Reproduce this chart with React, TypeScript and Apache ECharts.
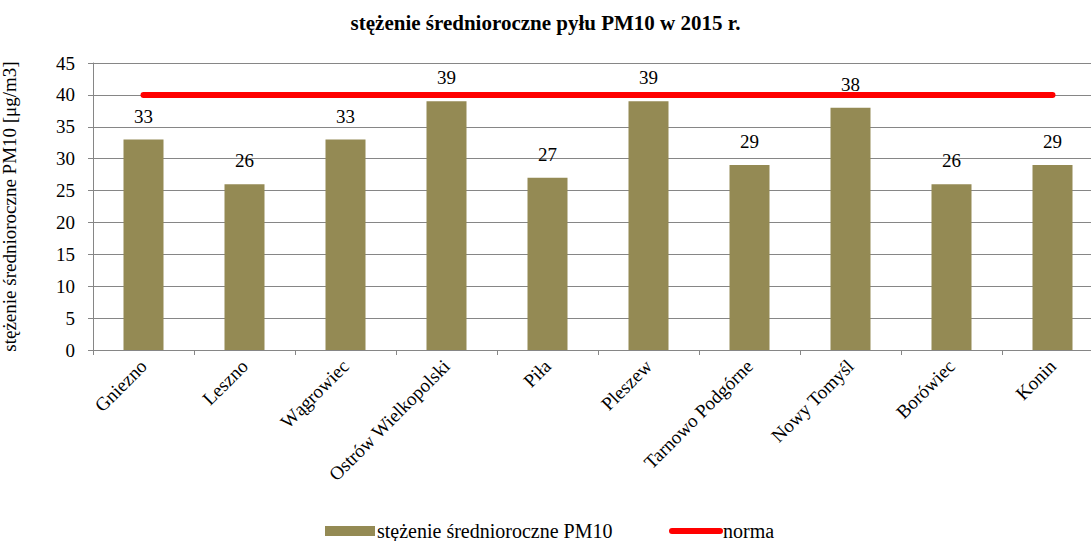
import React, { useEffect, useRef } from "react";
import * as echarts from "echarts";

const categories = [
  "Gniezno",
  "Leszno",
  "Wągrowiec",
  "Ostrów Wielkopolski",
  "Piła",
  "Pleszew",
  "Tarnowo Podgórne",
  "Nowy Tomyśl",
  "Borówiec",
  "Konin",
];
const pm10Values = [33, 26, 33, 39, 27, 39, 29, 38, 26, 29];
const normValues = [40, 40, 40, 40, 40, 40, 40, 40, 40, 40];

const FONT = "Liberation Serif";

export default function App() {
  const ref = useRef<HTMLDivElement>(null);
  useEffect(() => {
    document.body.style.margin = "0";
    const chart = echarts.init(ref.current!, null, { renderer: "svg" });
    chart.setOption({
      animation: false,
      backgroundColor: "#ffffff",
      textStyle: { fontFamily: FONT },
      title: {
        text: "stężenie średnioroczne pyłu PM10 w 2015 r.",
        left: "center",
        top: 7,
        textStyle: { fontFamily: FONT, fontSize: 21, fontWeight: "bold", color: "#000" },
      },
      legend: [
        {
          bottom: -5,
          left: 320,
          itemWidth: 50,
          itemHeight: 10,
          textStyle: { fontFamily: FONT, fontSize: 20, color: "#000", padding: [0, 0, 0, -3] },
          data: [{ name: "stężenie średnioroczne PM10", icon: "rect" }],
        },
        {
          bottom: -5,
          left: 664,
          itemWidth: 54,
          itemHeight: 14,
          textStyle: { fontFamily: FONT, fontSize: 20, color: "#000", padding: [0, 0, 0, -5] },
          data: [
            {
              name: "norma",
              icon: "path://M3,4 L51,4 A3,3 0 0 1 51,10 L3,10 A3,3 0 0 1 3,4 Z M0,0 L0,0.01 Z M54,14 L54,13.99 Z",
              itemStyle: { color: "#FF0000", borderWidth: 0 },
            },
          ],
        },
      ],
      grid: {
        left: 93,
        right: -12,
        top: 63,
        bottom: 191,
        containLabel: false,
        outerBoundsMode: "none",
      },
      xAxis: {
        type: "category",
        data: categories,
        axisLine: { lineStyle: { color: "#868686", width: 1 } },
        axisTick: { show: true, alignWithLabel: false, length: 5, lineStyle: { color: "#868686" } },
        axisLabel: {
          rotate: 45,
          interval: 0,
          fontFamily: FONT,
          fontSize: 19,
          color: "#000",
          margin: 13,
        },
      },
      yAxis: {
        type: "value",
        min: 0,
        max: 45,
        interval: 5,
        name: "stężenie średnioroczne PM10 [μg/m3]",
        nameLocation: "middle",
        nameGap: 74,
        nameTextStyle: { fontFamily: FONT, fontSize: 19, color: "#000" },
        axisLine: { show: true, lineStyle: { color: "#868686" } },
        axisTick: { show: true, length: 5, lineStyle: { color: "#868686" } },
        axisLabel: { fontFamily: FONT, fontSize: 19, color: "#000", margin: 18 },
        splitLine: { show: true, lineStyle: { color: "#868686", width: 1 } },
      },
      series: [
        {
          name: "stężenie średnioroczne PM10",
          type: "bar",
          data: pm10Values,
          barWidth: 40,
          itemStyle: { color: "#948A54" },
          label: {
            show: true,
            position: "top",
            distance: 14,
            fontFamily: FONT,
            fontSize: 19,
            color: "#000",
          },
        },
        {
          name: "norma",
          type: "line",
          data: normValues,
          symbol: "none",
          lineStyle: { color: "#FF0000", width: 6, cap: "round" },
          itemStyle: { color: "#FF0000" },
          z: 5,
        },
      ],
    });
    return () => chart.dispose();
  }, []);
  return (
    <div
      ref={ref}
      style={{ position: "absolute", left: 0, top: 0, width: 1091, height: 541 }}
    />
  );
}
